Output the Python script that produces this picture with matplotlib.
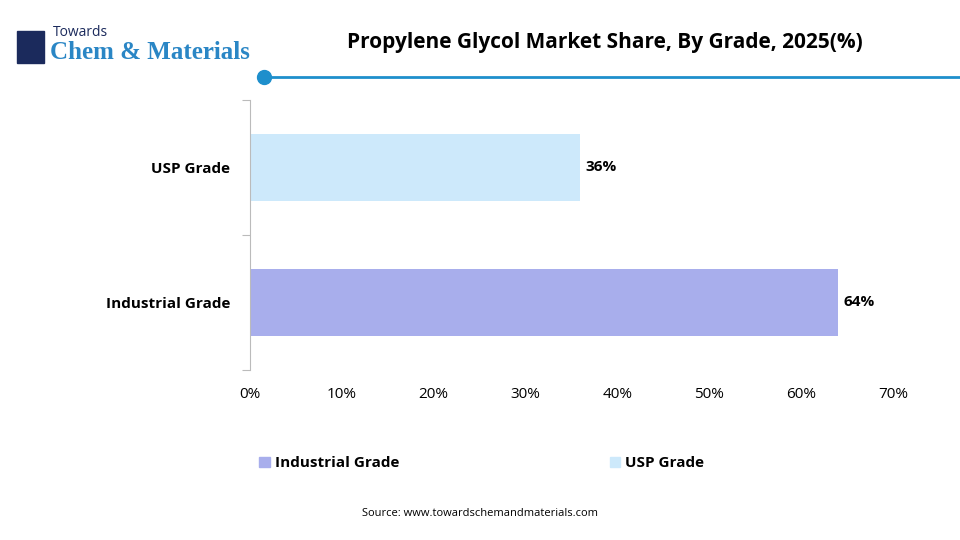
import matplotlib
matplotlib.use("Agg")
import matplotlib.pyplot as plt
from matplotlib.patches import Rectangle
from matplotlib.lines import Line2D

categories = ["Industrial Grade", "USP Grade"]
values = [64, 36]
colors = ["#A8AEEC", "#CDE9FB"]
xticks = [0, 10, 20, 30, 40, 50, 60, 70]

plt.rcParams['font.family'] = ['Open Sans', 'DejaVu Sans']
fig = plt.figure(figsize=(9.6, 5.4), dpi=100)
ax = fig.add_axes([0.260, 0.315, 0.670, 0.50])
ypos = list(range(len(categories)))
ax.barh(ypos, values, height=0.5, color=colors)
for y, v in zip(ypos, values):
    ax.text(v + 0.6, y, f"{v}%", va="center", ha="left", fontsize=11, fontweight="bold")
ax.set_xlim(0, 70)
ax.set_ylim(-0.5, 1.5)
ax.set_xticks(xticks)
ax.set_xticklabels([f"{t}%" for t in xticks], fontsize=11)
ax.set_yticks([-0.5, 0.5, 1.5])
ax.set_yticklabels([])
ax.set_yticks(ypos, minor=True)
ax.set_yticklabels(categories, minor=True, fontsize=11, fontweight="bold")
ax.tick_params(axis="y", which="minor", length=0, pad=14)
ax.tick_params(axis="y", which="major", length=6, color="#BBBBBB")
ax.tick_params(axis="x", length=0, pad=12)
for s in ["top", "right", "bottom"]:
    ax.spines[s].set_visible(False)
ax.spines["left"].set_color("#BBBBBB")

fig.text(0.63, 0.922, "Propylene Glycol Market Share, By Grade, 2025(%)", ha="center", va="center",
         fontsize=15, fontweight="bold")
fig.add_artist(Line2D([0.275, 1.0], [0.857, 0.857], color="#1E8FCC", lw=2))
fig.add_artist(Line2D([0.275], [0.857], marker="o", markersize=10, color="#1E8FCC"))
# logo
fig.text(0.055, 0.94, "Towards", fontsize=10, color="#1B2A5C", va="center")
fig.text(0.052, 0.903, "Chem & Materials", fontsize=18, color="#2A86C5", va="center",
         family=["Liberation Serif", "DejaVu Serif"], fontweight="bold")
fig.add_artist(Rectangle((0.018, 0.883), 0.028, 0.06, color="#1B2A5C"))

# legend
for x, c, lab in [(0.270, colors[0], "Industrial Grade"), (0.635, colors[1], "USP Grade")]:
    fig.add_artist(Rectangle((x, 0.135), 0.011, 0.019, color=c))
    fig.text(x + 0.016, 0.143, lab, fontsize=11, fontweight="bold", va="center")
fig.text(0.5, 0.045, "Source: www.towardschemandmaterials.com", ha="center", fontsize=8)
fig.savefig("out.png", dpi=100)
